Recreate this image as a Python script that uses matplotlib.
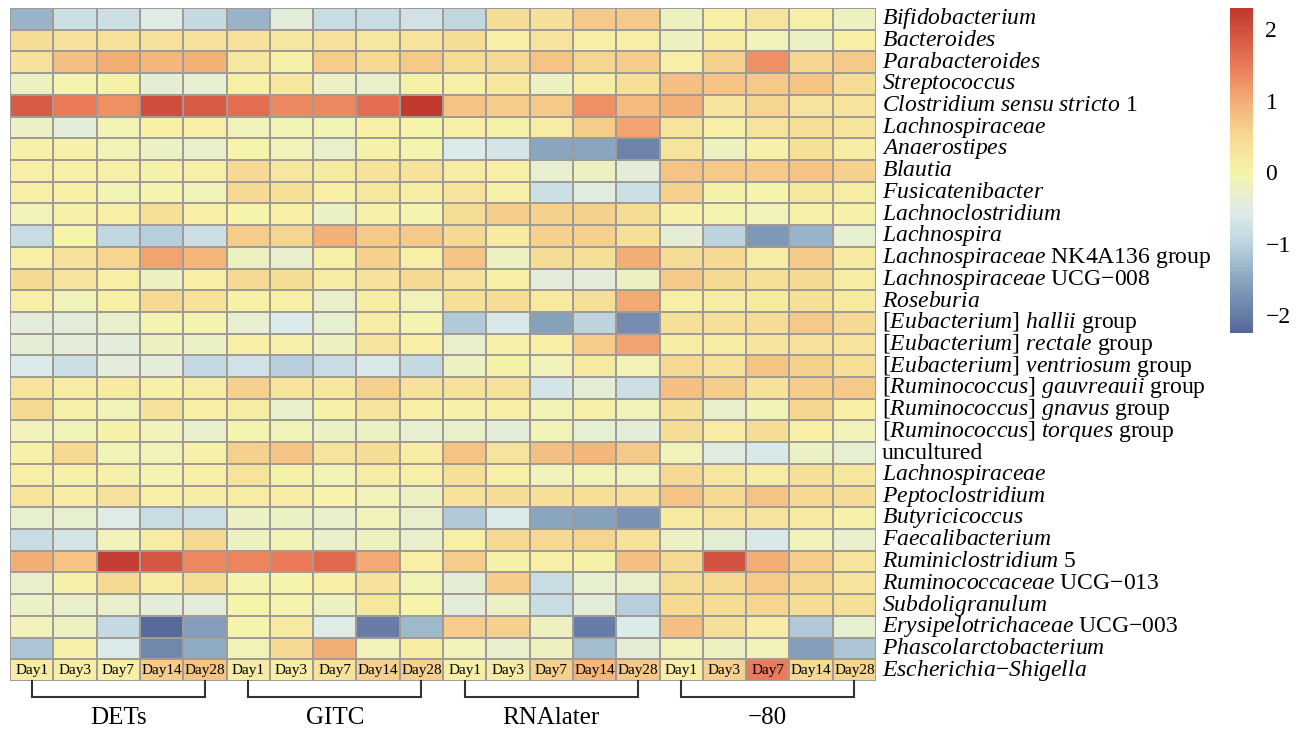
import numpy as np
import matplotlib.pyplot as plt
from matplotlib.colors import LinearSegmentedColormap

plt.rcParams['font.family'] = 'Liberation Serif'
plt.rcParams['mathtext.fontset'] = 'custom'
plt.rcParams['mathtext.rm'] = 'Liberation Serif'
plt.rcParams['mathtext.it'] = 'Liberation Serif:italic'

# ---- data ----
groups = ['DETs', 'GITC', 'RNAlater', '−80']
days = ['Day1', 'Day3', 'Day7', 'Day14', 'Day28']

taxa = [
    r'$\mathit{Bifidobacterium}$',
    r'$\mathit{Bacteroides}$',
    r'$\mathit{Parabacteroides}$',
    r'$\mathit{Streptococcus}$',
    r'$\mathit{Clostridium\ sensu\ stricto}$ 1',
    r'$\mathit{Lachnospiraceae}$',
    r'$\mathit{Anaerostipes}$',
    r'$\mathit{Blautia}$',
    r'$\mathit{Fusicatenibacter}$',
    r'$\mathit{Lachnoclostridium}$',
    r'$\mathit{Lachnospira}$',
    r'$\mathit{Lachnospiraceae}$ NK4A136 group',
    r'$\mathit{Lachnospiraceae}$ UCG−008',
    r'$\mathit{Roseburia}$',
    r'[$\mathit{Eubacterium}$] $\mathit{hallii}$ group',
    r'[$\mathit{Eubacterium}$] $\mathit{rectale}$ group',
    r'[$\mathit{Eubacterium}$] $\mathit{ventriosum}$ group',
    r'[$\mathit{Ruminococcus}$] $\mathit{gauvreauii}$ group',
    r'[$\mathit{Ruminococcus}$] $\mathit{gnavus}$ group',
    r'[$\mathit{Ruminococcus}$] $\mathit{torques}$ group',
    'uncultured',
    r'$\mathit{Lachnospiraceae}$',
    r'$\mathit{Peptoclostridium}$',
    r'$\mathit{Butyricicoccus}$',
    r'$\mathit{Faecalibacterium}$',
    r'$\mathit{Ruminiclostridium}$ 5',
    r'$\mathit{Ruminococcaceae}$ UCG−013',
    r'$\mathit{Subdoligranulum}$',
    r'$\mathit{Erysipelotrichaceae}$ UCG−003',
    r'$\mathit{Phascolarctobacterium}$',
    r'$\mathit{Escherichia}$−$\mathit{Shigella}$',
]

# z-scores, one row per taxon, columns: DETs d1..d28, GITC, RNAlater, -80
z = [
    [-1.35, -0.8, -0.8, -0.55, -0.9, -1.35, -0.45, -0.85, -0.85, -0.75, -0.95, 0.45, 0.4, 0.7, 0.7, -0.2, 0.1, 0.3, 0.1, -0.2],
    [0.45, 0.35, 0.35, 0.35, 0.35, 0.35, 0.25, 0.35, 0.25, 0.3, 0.45, 0.1, 0.3, 0.1, 0.1, -0.2, 0.15, -0.15, -0.25, 0.1],
    [0.35, 0.8, 1.0, 0.9, 0.95, 0.25, 0.05, 0.65, 0.5, 0.7, 0.45, 0.5, 0.75, 0.55, 0.65, 0.1, 0.6, 1.3, 0.55, 0.7],
    [-0.2, -0.05, 0.05, -0.4, -0.35, 0.1, 0.25, -0.25, -0.3, 0.05, 0.1, 0.25, -0.2, 0.15, 0.4, 0.8, 0.75, 0.7, 0.75, 0.45],
    [1.85, 1.5, 1.3, 2.0, 1.85, 1.65, 1.35, 1.35, 1.65, 2.25, 0.75, 0.65, 0.7, 1.3, 0.85, 0.95, 0.3, 0.55, 0.3, 0.3],
    [-0.25, -0.45, -0.1, 0.1, 0.1, -0.15, -0.1, -0.1, 0.1, 0.0, 0.1, 0.05, 0.15, 0.65, 1.1, 0.3, 0.1, 0.3, 0.4, 0.3],
    [0.05, 0.05, -0.1, -0.25, -0.3, 0.0, -0.15, -0.3, 0.05, -0.05, -0.6, -0.7, -1.5, -1.5, -1.9, 0.3, -0.2, 0.05, 0.4, 0.15],
    [0.1, 0.1, 0.1, 0.05, 0.1, 0.5, 0.25, 0.2, 0.35, 0.35, 0.15, 0.1, -0.35, -0.2, -0.45, 0.75, 0.7, 0.7, 0.75, 0.6],
    [0.1, 0.1, -0.1, -0.05, -0.15, 0.5, 0.4, 0.1, 0.25, 0.15, 0.3, 0.05, -0.8, -0.5, -0.8, 0.6, 0.05, 0.0, 0.25, 0.15],
    [-0.15, 0.05, 0.1, 0.4, 0.1, 0.0, 0.1, -0.25, 0.05, -0.05, 0.45, 0.65, 0.6, 0.6, 0.45, 0.05, -0.05, -0.15, 0.05, 0.05],
    [-0.85, 0.0, -0.95, -1.05, -0.8, 0.65, 0.55, 0.95, 0.7, 0.7, 0.5, 0.2, 0.6, 0.6, 0.4, -0.4, -1.0, -1.65, -1.35, -0.35],
    [0.1, 0.35, 0.55, 1.1, 0.9, -0.2, -0.3, 0.1, 0.6, 0.1, 0.75, -0.2, 0.45, 0.4, 1.0, 0.45, 0.5, 0.15, 0.7, 0.2],
    [0.5, 0.3, 0.1, -0.2, 0.1, 0.5, 0.45, 0.15, 0.35, 0.5, 0.35, 0.1, -0.45, -0.45, -0.2, 0.7, 0.5, 0.4, 0.5, 0.15],
    [0.1, -0.15, 0.1, 0.5, 0.35, 0.05, 0.1, -0.3, 0.15, -0.15, 0.4, 0.45, 0.2, 0.4, 1.05, 0.1, 0.15, 0.2, 0.4, 0.2],
    [-0.45, -0.45, -0.3, -0.05, -0.05, -0.35, -0.6, -0.35, 0.15, -0.05, -1.1, -0.65, -1.55, -1.0, -1.8, 0.4, 0.4, 0.45, 0.7, 0.5],
    [-0.4, -0.45, -0.45, -0.2, -0.25, 0.1, 0.05, -0.2, 0.3, 0.1, -0.3, 0.05, 0.1, 0.65, 1.1, 0.15, 0.15, 0.3, 0.35, 0.3],
    [-0.6, -0.8, -0.45, -0.45, -0.9, -0.75, -1.05, -0.85, -0.65, -0.9, -0.2, 0.05, -0.15, 0.2, -0.1, 0.5, 0.35, 0.75, 0.6, 0.4],
    [0.3, 0.15, 0.2, 0.1, 0.15, 0.6, 0.3, 0.25, 0.6, 0.35, 0.35, 0.35, -0.7, -0.4, -0.8, 0.8, 0.65, 0.35, 0.65, 0.7],
    [0.5, 0.05, -0.15, 0.35, 0.1, 0.15, -0.3, 0.05, 0.3, 0.1, 0.05, 0.1, -0.1, 0.05, -0.15, 0.4, -0.3, -0.1, 0.55, 0.1],
    [-0.15, -0.15, 0.05, -0.15, -0.3, -0.05, -0.15, -0.25, -0.25, -0.35, -0.3, -0.45, -0.1, -0.35, -0.45, 0.45, 0.15, 0.45, 0.1, -0.15],
    [0.05, 0.5, -0.1, -0.15, 0.05, 0.6, 0.75, 0.3, 0.45, 0.15, 0.75, 0.3, 0.8, 0.9, 0.7, -0.15, -0.5, -0.65, -0.25, -0.35],
    [0.1, 0.05, 0.05, -0.05, 0.1, 0.3, 0.05, -0.1, 0.15, 0.1, 0.4, 0.1, -0.15, -0.1, -0.15, 0.5, 0.25, 0.15, 0.4, 0.25],
    [0.3, 0.15, 0.35, 0.1, 0.15, 0.15, 0.15, 0.0, -0.1, -0.2, 0.35, 0.45, 0.4, 0.4, 0.4, 0.75, 0.5, 0.75, 0.5, 0.45],
    [-0.35, -0.35, -0.55, -0.85, -0.8, -0.25, -0.25, -0.3, -0.15, -0.3, -1.1, -0.6, -1.5, -1.55, -1.75, 0.2, 0.3, 0.3, 0.2, 0.05],
    [-0.85, -0.7, -0.15, 0.15, 0.5, -0.2, -0.1, -0.3, -0.2, -0.3, 0.1, 0.5, 0.5, 0.55, 0.35, -0.25, -0.4, -0.65, -0.15, -0.3],
    [1.0, 0.75, 2.2, 1.9, 1.35, 1.4, 1.5, 1.7, 1.05, 0.1, 0.65, 0.05, 0.1, 0.05, 0.8, 0.5, 1.95, 1.0, 0.65, 0.3],
    [-0.3, 0.05, 0.5, 0.15, 0.45, -0.05, 0.0, 0.1, 0.35, -0.1, -0.4, 0.65, -0.85, -0.35, -0.3, 0.45, 0.5, 0.7, 0.55, 0.3],
    [-0.25, -0.3, -0.3, -0.45, -0.45, 0.0, -0.05, -0.2, 0.25, 0.0, -0.45, -0.25, -0.85, -0.45, -1.05, 0.5, 0.45, 0.55, 0.45, 0.4],
    [-0.15, -0.2, -0.9, -2.2, -1.6, 0.0, 0.2, -0.55, -2.0, -1.3, 0.65, 0.6, -0.2, -2.0, -0.6, 0.8, 0.4, 0.15, -1.1, -0.35],
    [-1.15, 0.05, -0.6, -1.85, -1.45, -0.1, 0.5, 1.0, -0.15, 0.15, -0.15, -0.3, -0.2, -1.25, -0.4, -0.15, -0.2, -0.15, -1.6, -1.15],
    [0.15, 0.1, 0.1, 0.65, 0.75, 0.15, 0.1, 0.35, 0.6, 0.6, 0.1, 0.15, 0.6, 0.9, 0.7, 0.1, 0.6, 1.5, 0.5, 0.55],
]
z = np.array(z)

vmin, vmax = -2.25, 2.3
cmap = LinearSegmentedColormap.from_list('rdylbu_soft', [
    ((-2.25 - vmin) / (vmax - vmin), '#56679A'),
    ((-1.5 - vmin) / (vmax - vmin), '#8AA6BF'),
    ((-1.0 - vmin) / (vmax - vmin), '#BDD4DF'),
    ((-0.6 - vmin) / (vmax - vmin), '#DCEBEA'),
    ((0.0 - vmin) / (vmax - vmin), '#F6F4AA'),
    ((0.5 - vmin) / (vmax - vmin), '#F6DA93'),
    ((1.0 - vmin) / (vmax - vmin), '#F3AE76'),
    ((1.5 - vmin) / (vmax - vmin), '#EA7A58'),
    ((2.3 - vmin) / (vmax - vmin), '#C0362E'),
])

W, H = 1302, 729
fig = plt.figure(figsize=(W / 100, H / 100), dpi=100)
ax = fig.add_axes([10 / W, 1 - 681 / H, 866 / W, 673 / H])

n_rows, n_cols = z.shape
mesh = ax.pcolormesh(z, cmap=cmap, vmin=vmin, vmax=vmax,
                     edgecolors='#A19B98', linewidth=1.3)
ax.set_xlim(0, n_cols)
ax.set_ylim(n_rows, 0)
ax.set_xticks([])
ax.set_yticks([])
for s in ax.spines.values():
    s.set_visible(False)

# taxon labels on the right
for i, lab in enumerate(taxa):
    ax.text(n_cols + 0.13, i + 0.5, lab, fontsize=17, va='center', ha='left',
            clip_on=False)

# day labels inside the last row
for j in range(n_cols):
    ax.text(j + 0.5, n_rows - 0.5, days[j % 5], fontsize=11, ha='center',
            va='center')

# group brackets
for g, name in enumerate(groups):
    x0, x1 = g * 5 + 0.5, g * 5 + 4.5
    yb = n_rows + 0.72
    ax.plot([x0, x0, x1, x1], [n_rows, yb, yb, n_rows], color='#333333',
            lw=1.5, clip_on=False, solid_joinstyle='miter')
    ax.text((x0 + x1) / 2, n_rows + 1.72, name, fontsize=18, ha='center',
            va='center', clip_on=False)

# colour key
cax = fig.add_axes([1230 / W, 1 - 333 / H, 23 / W, 325 / H])
cb = fig.colorbar(mesh, cax=cax, ticks=[-2, -1, 0, 1, 2])
cb.outline.set_visible(False)
cax.tick_params(length=0, labelsize=17, pad=9)

fig.savefig('out.png', dpi=100)
